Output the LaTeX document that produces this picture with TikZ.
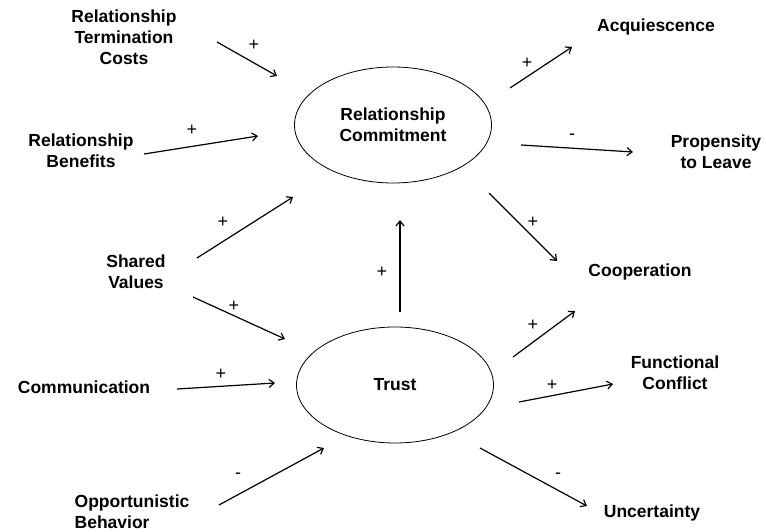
\documentclass[tikz,border=0pt]{standalone}
\usepackage{fontspec}
\setmainfont{Liberation Sans}
\usetikzlibrary{arrows.meta, shapes.geometric}

\begin{document}
\begin{tikzpicture}[x=1pt,y=-1pt,
    factor/.style={font=\bfseries\fontsize{17.5}{21}\selectfont,align=center,inner sep=0pt},
    construct/.style={factor,ellipse,draw,line width=0.8pt,minimum width=197pt,minimum height=116pt},
    sign/.style={font=\fontsize{18}{20}\selectfont,inner sep=0pt},
    link/.style={line width=1.2pt,-{Straight Barb[length=5pt,width=8pt]}}]
\useasboundingbox (0,0) rectangle (766,532);
%\tikzstyle{place}=[ellipse,draw,thin]
\node[construct] (rc) at (393,125) {Relationship\\Commitment};
\node[construct] (tr) at (395,385) {Trust};

\node[factor] (rtc) at (124,37) {Relationship\\Termination\\Costs};
\node[factor] (rb) at (81,151) {Relationship\\Benefits};
\node[factor] (sv) at (136,272) {Shared\\Values};
\node[factor] (com) at (84,387) {Communication};
\node[factor,align=left] (ob) at (132,512) {Opportunistic\\Behavior};
\node[factor] (acq) at (656,27) {Acquiescence};
\node[factor] (ptl) at (716,152) {Propensity\\to Leave};
\node[factor] (coop) at (640,272) {Cooperation};
\node[factor] (fc) at (675,373) {Functional\\Conflict};
\node[factor] (unc) at (652,513) {Uncertainty};

% arrow ends
\coordinate (a1) at (217,42);  \coordinate (b1) at (277,76);
\coordinate (a2) at (144,154); \coordinate (b2) at (258,136);
\coordinate (a3) at (197,258); \coordinate (b3) at (293,197);
\coordinate (a4) at (193,297); \coordinate (b4) at (285,339);
\coordinate (a5) at (177,389); \coordinate (b5) at (275,383);
\coordinate (a6) at (219,505); \coordinate (b6) at (324,448);
\coordinate (a7) at (400,312); \coordinate (b7) at (400,220);
\coordinate (a8) at (489,193); \coordinate (b8) at (557,261);
\coordinate (a9) at (510,88);  \coordinate (b9) at (572,47);
\coordinate (a10) at (521,145); \coordinate (b10) at (633,152);
\coordinate (a11) at (513,357); \coordinate (b11) at (575,311);
\coordinate (a12) at (519,402); \coordinate (b12) at (613,384);
\coordinate (a13) at (480,448); \coordinate (b13) at (587,506);

\path [link] (a1) edge (b1);
\path [link] (a2) edge (b2);
\path [link] (a3) edge (b3);
\path [link] (a4) edge (b4);
\path [link] (a5) edge (b5);
\path [link] (a6) edge (b6);
\path [link] (a7) edge (b7);
\path [link] (a8) edge (b8);
\path [link] (a9) edge (b9);
\path [link] (a10) edge (b10);
\path [link] (a11) edge (b11);
\path [link] (a12) edge (b12);
\path [link] (a13) edge (b13);

\node[sign] (s1) at (254,45) {+};
\node[sign] (s2) at (192,130) {+};
\node[sign] (s3) at (223,222) {+};
\node[sign] (s4) at (234,306) {+};
\node[sign] (s5) at (221,374) {+};
\node[sign] (s6) at (238,476) {-};
\node[sign] (s7) at (382,272) {+};
\node[sign] (s8) at (533,222) {+};
\node[sign] (s9) at (527,63) {+};
\node[sign] (s10) at (572,137) {-};
\node[sign] (s11) at (533,325) {+};
\node[sign] (s12) at (552,385) {+};
\node[sign] (s13) at (558,476) {-};
\end{tikzpicture}
\end{document}
